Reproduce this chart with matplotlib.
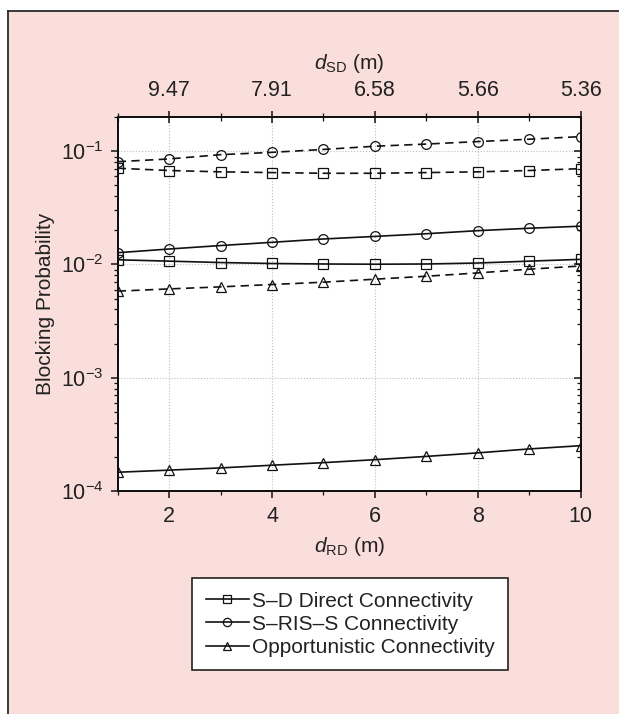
import matplotlib
matplotlib.use("Agg")
import matplotlib.pyplot as plt
from matplotlib.patches import Rectangle
from matplotlib.lines import Line2D
from matplotlib.ticker import FixedLocator, NullFormatter, LogLocator

plt.rcParams['font.family'] = ['Liberation Sans', 'DejaVu Sans']
plt.rcParams['mathtext.fontset'] = 'custom'
plt.rcParams['mathtext.rm'] = 'Liberation Sans'
plt.rcParams['mathtext.it'] = 'Liberation Sans:italic'
plt.rcParams['mathtext.default'] = 'regular'

# ---------------- data ----------------
d_rd = [1, 2, 3, 4, 5, 6, 7, 8, 9, 10]
top_tick_pos = [2, 4, 6, 8, 10]
top_tick_labels = ['9.47', '7.91', '6.58', '5.66', '5.36']

sd_direct_solid = [0.0110, 0.0107, 0.0104, 0.0102, 0.0101, 0.01005, 0.0101, 0.0103, 0.0107, 0.0111]
sris_solid = [0.0127, 0.0137, 0.0147, 0.0157, 0.0168, 0.0177, 0.0187, 0.0199, 0.0209, 0.0218]
opp_solid = [1.456e-4, 1.52e-4, 1.59e-4, 1.68e-4, 1.77e-4, 1.88e-4, 2.01e-4, 2.16e-4, 2.34e-4, 2.50e-4]

sd_direct_dashed = [0.0709, 0.0677, 0.0659, 0.0649, 0.0640, 0.0640, 0.0649, 0.0659, 0.0677, 0.0703]
sris_dashed = [0.081, 0.0857, 0.0935, 0.098, 0.104, 0.111, 0.116, 0.122, 0.128, 0.135]
opp_dashed = [0.00581, 0.00608, 0.00634, 0.00665, 0.00697, 0.00741, 0.00787, 0.00842, 0.00908, 0.0097]

legend_labels = ['S\u2013D Direct Connectivity', 'S\u2013RIS\u2013S Connectivity', 'Opportunistic Connectivity']

# ---------------- figure ----------------
W, H = 619, 714
fig = plt.figure(figsize=(W / 100, H / 100), dpi=100)
fig.patch.set_facecolor('white')
pink = '#f9dedb'
fig.patches.append(Rectangle((8 / W, 0), 1, 1 - 11 / H, transform=fig.transFigure,
                             facecolor=pink, edgecolor='none', zorder=-10))
fig.lines.append(Line2D([8 / W, 8 / W], [0, 1 - 11 / H], transform=fig.transFigure,
                        color='#2a2a2a', lw=1.3))
fig.lines.append(Line2D([8 / W, 1], [1 - 11 / H, 1 - 11 / H], transform=fig.transFigure,
                        color='#2a2a2a', lw=1.3))

left, right, top, bottom = 117.7, 580.7, 117.3, 490.7
ax = fig.add_axes([left / W, 1 - bottom / H, (right - left) / W, (bottom - top) / H])
ax.set_facecolor('white')

lc = '#111111'
ms = 7
common = dict(color=lc, lw=1.2, mfc='none', mec=lc, mew=0.9, ms=ms)
series = [
    (sd_direct_solid, 's', '-'),
    (sris_solid, 'o', '-'),
    (opp_solid, '^', '-'),
    (sd_direct_dashed, 's', '--'),
    (sris_dashed, 'o', '--'),
    (opp_dashed, '^', '--'),
]
handles = []
for ys, mk, ls in series:
    ln, = ax.plot(d_rd, ys, marker=mk, linestyle=ls, **common)
    if ls == '--':
        ln.set_dashes((5, 3.2))
    else:
        handles.append(ln)

ax.set_yscale('log')
ax.set_xlim(1, 10)
ax.set_ylim(1e-4, 0.2)
ax.xaxis.set_major_locator(FixedLocator([2, 4, 6, 8, 10]))
ax.xaxis.set_minor_locator(FixedLocator([1, 3, 5, 7, 9]))
ax.yaxis.set_major_locator(LogLocator(base=10, numticks=10))
ax.yaxis.set_minor_locator(LogLocator(base=10, subs=range(2, 10), numticks=20))
ax.yaxis.set_minor_formatter(NullFormatter())

ax.grid(True, which='major', color='#bdbdbd', lw=0.8, ls=':')

tc = '#222222'
fs_tick = 15.5
ax.tick_params(axis='both', which='major', labelsize=fs_tick, colors=lc, labelcolor=tc, width=1.1)
ax.tick_params(axis='x', which='major', direction='out', length=5, pad=6)
ax.tick_params(axis='y', which='major', direction='out', length=5, pad=5)
ax.tick_params(axis='both', which='minor', direction='out', length=3, width=0.9, colors=lc)

# right side mirrored ticks pointing inward
axr = ax.twinx()
axr.set_yscale('log')
axr.set_ylim(ax.get_ylim())
axr.yaxis.set_major_locator(LogLocator(base=10, numticks=10))
axr.yaxis.set_minor_locator(LogLocator(base=10, subs=range(2, 10), numticks=20))
axr.tick_params(axis='y', which='major', direction='in', length=5, width=1.1, colors=lc, labelright=False)
axr.tick_params(axis='y', which='minor', direction='in', length=3, width=0.9, colors=lc, labelright=False)

# top axis
axt = ax.twiny()
axt.set_xlim(ax.get_xlim())
axt.xaxis.set_major_locator(FixedLocator(top_tick_pos))
axt.xaxis.set_minor_locator(FixedLocator([1, 3, 5, 7, 9]))
axt.set_xticklabels(top_tick_labels)
axt.tick_params(axis='x', which='major', direction='inout', length=9, width=1.1, colors=lc,
                labelcolor=tc, labelsize=fs_tick, pad=7)
axt.tick_params(axis='x', which='minor', direction='inout', length=6, width=0.9, colors=lc)
axt.set_xlabel(r'$\mathit{d}_{\mathrm{SD}}$ (m)', fontsize=15, color=tc, labelpad=8)

for a in (ax, axr, axt):
    for s in a.spines.values():
        s.set_linewidth(1.3)
        s.set_color(lc)

ax.set_xlabel(r'$\mathit{d}_{\mathrm{RD}}$ (m)', fontsize=15, color=tc, labelpad=6)
ax.set_ylabel('Blocking Probability', fontsize=15, color=tc, labelpad=4)

leg = fig.legend(handles, legend_labels, loc='upper left',
                 bbox_to_anchor=(192 / W, 1 - 578 / H), bbox_transform=fig.transFigure,
                 borderaxespad=0, fontsize=15, handlelength=2.1, handletextpad=0.12,
                 labelspacing=0.2, borderpad=0.65, markerscale=0.85, fancybox=False,
                 frameon=True, framealpha=1, edgecolor='#222222', facecolor='white')
leg.get_frame().set_linewidth(1.2)
for t in leg.get_texts():
    t.set_color(tc)

fig.savefig('out.png', dpi=100, facecolor=fig.get_facecolor())
